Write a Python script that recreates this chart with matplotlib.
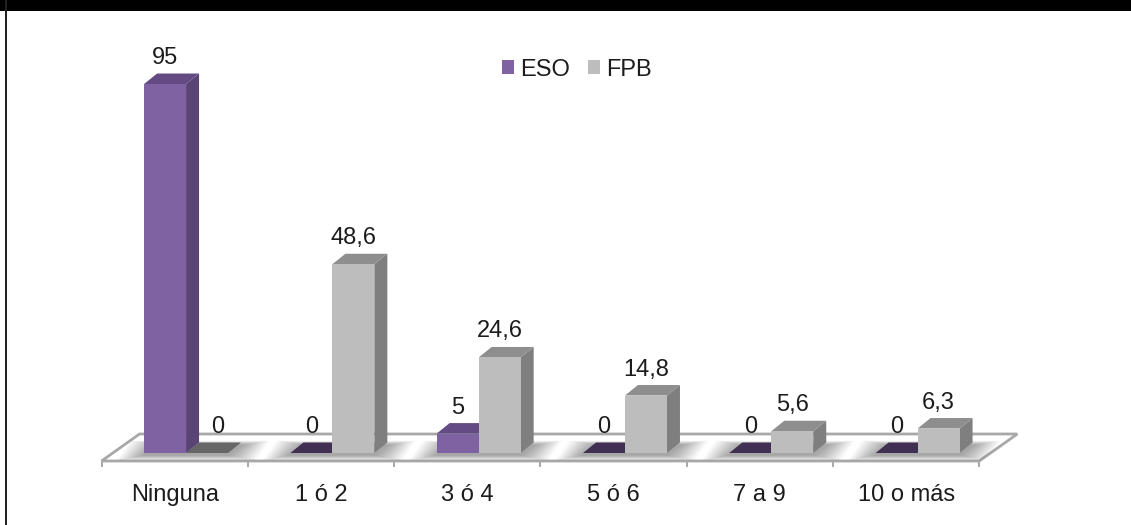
import matplotlib
matplotlib.use("Agg")
import matplotlib.pyplot as plt
from matplotlib.patches import Polygon, Rectangle

plt.rcParams["font.family"] = ["Liberation Sans", "DejaVu Sans"]

# Data
categories = ["Ninguna", "1 ó 2", "3 ó 4", "5 ó 6", "7 a 9", "10 o más"]
eso_values = [95, 0, 5, 0, 0, 0]
fpb_values = [0, 48.6, 24.6, 14.8, 5.6, 6.3]
eso_labels = ["95", "0", "5", "0", "0", "0"]
fpb_labels = ["0", "48,6", "24,6", "14,8", "5,6", "6,3"]

W, H = 1131, 525
DPI = 100
X0_PX, STEP_PX = 101.5, 146.3      # left end of the category axis, px per category
Y0_PX, UNIT_PX = 453.0, 3.884      # baseline row, px per value unit
PX, PY = 1 / STEP_PX, 1 / UNIT_PX  # one pixel in data units

fig = plt.figure(figsize=(W / DPI, H / DPI), dpi=DPI, facecolor="white")
ax = fig.add_axes([0, 0, 1, 1])
ax.set_xlim(-X0_PX * PX, (W - X0_PX) * PX)
ax.set_ylim((Y0_PX - H) * PY, Y0_PX * PY)
ax.axis("off")

# Slide frame: heavy band on top, thin rule on the left
fig.add_artist(Rectangle((0, 1 - 11 / H), 1, 11 / H, transform=fig.transFigure,
                         fc="black", ec="none"))
fig.add_artist(Rectangle((5 / W, 0), 1.6 / W, 1, transform=fig.transFigure,
                         fc="#222222", ec="none"))

# Floor plate
n = len(categories)
FLOOR_Y = -8 * PY
FLOOR_DX, FLOOR_DY = 38 * PX, 27 * PY
EDGE = "#a8a8a8"
floor = Polygon([(0, FLOOR_Y), (n, FLOOR_Y), (n + FLOOR_DX, FLOOR_Y + FLOOR_DY),
                 (FLOOR_DX, FLOOR_Y + FLOOR_DY)], closed=True, fc="white",
                ec=EDGE, lw=2.0, zorder=1, joinstyle="miter")
ax.add_patch(floor)
for i in range(n + 1):
    ax.plot([i, i], [FLOOR_Y, FLOOR_Y - 6 * PY], color=EDGE, lw=1.4, zorder=1,
            solid_capstyle="butt")

# Bar geometry
BAR_W = 42 * PX
DEPTH_X, DEPTH_Y = 13 * PX, 10.5 * PY
CENTER = 0.578

PURPLE = dict(front="#7f62a1", side="#5a4476", top="#654b84", flat="#403152")
GRAY = dict(front="#bdbdbd", side="#7f7f7f", top="#8e8e8e", flat="#666666")


def soft_shadow(left, right):
    """Blurred floor shadow under a bar group, built from stacked translucent plates."""
    layers = 24
    for k in range(layers):
        grow = (layers - k) * 1.15
        bottom = -(2 + grow * 0.2) * PY
        top = (8 + grow * 0.16) * PY
        skew = 14 * PX
        shade = Polygon([(left - grow * PX, bottom), (right + grow * PX, bottom),
                         (right + skew + grow * PX, top), (left + skew - grow * PX, top)],
                        closed=True, fc="black", ec="none", alpha=0.016, zorder=1.5)
        ax.add_patch(shade)
        shade.set_clip_path(floor)


def draw_bar(x, value, colors, z):
    if value == 0:
        ax.add_patch(Polygon([(x, 0), (x + BAR_W, 0), (x + BAR_W + DEPTH_X, DEPTH_Y),
                              (x + DEPTH_X, DEPTH_Y)], closed=True,
                             fc=colors["flat"], ec="none", zorder=z))
        return
    ax.add_patch(Polygon([(x + BAR_W, 0), (x + BAR_W + DEPTH_X, DEPTH_Y),
                          (x + BAR_W + DEPTH_X, value + DEPTH_Y), (x + BAR_W, value)],
                         closed=True, fc=colors["side"], ec="none", zorder=z))
    ax.add_patch(Polygon([(x, value), (x + BAR_W, value),
                          (x + BAR_W + DEPTH_X, value + DEPTH_Y), (x + DEPTH_X, value + DEPTH_Y)],
                         closed=True, fc=colors["top"], ec="none", zorder=z))
    ax.add_patch(Rectangle((x, 0), BAR_W, value, fc=colors["front"], ec="none", zorder=z + 0.1))


TEXT = "#1c1c1c"
FS = 17
LABEL_GAP = 26 * PY

for i in range(n):
    c = i + CENTER
    soft_shadow(c - BAR_W, c + BAR_W)
    draw_bar(c - BAR_W, eso_values[i], PURPLE, 2 + i)
    draw_bar(c, fpb_values[i], GRAY, 2.3 + i)
    ax.text(c - BAR_W / 2, eso_values[i] + LABEL_GAP, eso_labels[i], ha="center",
            va="center", fontsize=FS, color=TEXT, zorder=20)
    # A flat FPB column leaves its label nudged toward the depth of the plate
    nudge = 11 * PX if fpb_values[i] == 0 else 0
    ax.text(c + BAR_W / 2 + nudge, fpb_values[i] + LABEL_GAP, fpb_labels[i], ha="center",
            va="center", fontsize=FS, color=TEXT, zorder=20)
    ax.text(i + 0.5, -42 * PY, categories[i], ha="center", va="center",
            fontsize=FS, color=TEXT, zorder=20)

# Legend
handles = [Rectangle((0, 0), 1, 1, fc=PURPLE["front"], ec="none", label="ESO"),
           Rectangle((0, 0), 1, 1, fc=GRAY["front"], ec="none", label="FPB")]
ax.legend(handles=handles, ncols=2, frameon=False, loc="center",
          bbox_to_anchor=(577 / W, 1 - 69.5 / H), bbox_transform=fig.transFigure,
          fontsize=FS, handlelength=0.5, handleheight=0.5, handletextpad=0.26,
          columnspacing=0.75, borderpad=0, borderaxespad=0, labelcolor=TEXT)

fig.savefig("out.png", dpi=DPI, facecolor="white")
